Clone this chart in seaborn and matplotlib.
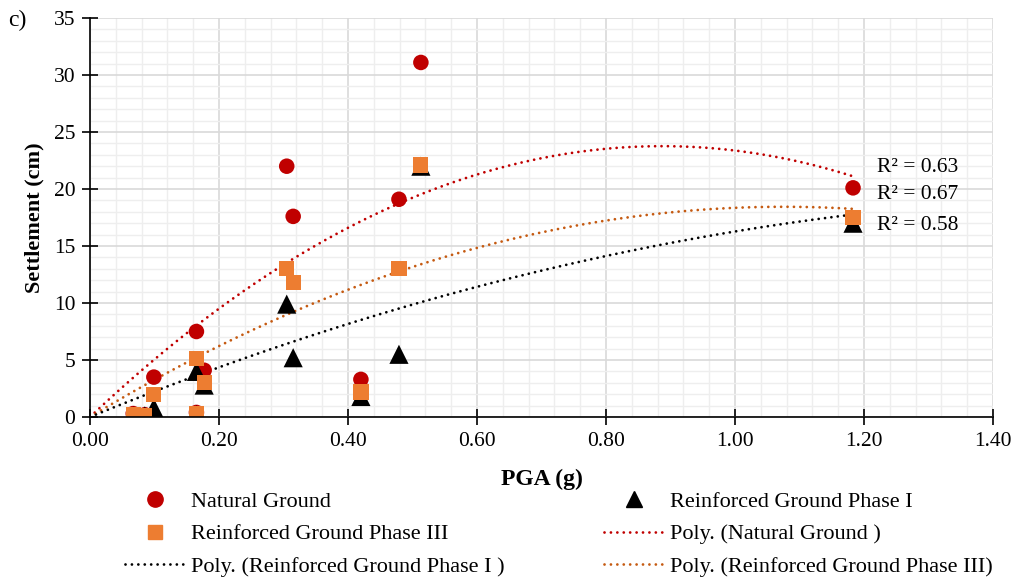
import numpy as np
import pandas as pd
import matplotlib
matplotlib.use("Agg")
import matplotlib.pyplot as plt
from matplotlib.ticker import MultipleLocator, FormatStrFormatter
from matplotlib.lines import Line2D
import seaborn as sns

# ---- data ----
pga = [0.067, 0.085, 0.099, 0.165, 0.165, 0.177, 0.305, 0.315, 0.420, 0.479, 0.513, 1.183]
natural = [0.3, 0.2, 3.5, 7.5, 0.4, 4.1, 22.0, 17.6, 3.3, 19.1, 31.1, 20.1]
phase3 = [0.2, 0.1, 2.0, 5.1, 0.3, 3.0, 13.0, 11.8, 2.2, 13.0, 22.1, 17.5]
phase1 = [0.1, 0.1, 0.8, 4.0, 0.2, 2.8, 9.9, 5.2, 1.8, 5.5, 22.0, 17.0]
r2_labels = ["R² = 0.63", "R² = 0.67", "R² = 0.58"]
series_names = ["Natural Ground", "Reinforced Ground Phase I", "Reinforced Ground Phase III"]
trend_names = ["Poly. (Natural Ground )", "Poly. (Reinforced Ground Phase I )",
               "Poly. (Reinforced Ground Phase III)"]

sns.set_theme(style="white")
plt.rcParams["font.family"] = ["Liberation Serif", "DejaVu Serif"]
plt.rcParams["mathtext.fontset"] = "stix"
plt.rcParams["text.color"] = "black"
plt.rcParams["axes.labelcolor"] = "black"
plt.rcParams["xtick.color"] = "black"
plt.rcParams["ytick.color"] = "black"

fig = plt.figure(figsize=(10.17, 5.83), dpi=100)
ax = fig.add_axes([90 / 1017, 1 - 417 / 583, (993 - 90) / 1017, (417 - 18) / 583])

df = pd.DataFrame({"pga": pga, "natural": natural, "phase1": phase1, "phase3": phase3})

RED = "#C00000"
ORANGE = "#ED7D31"
DORANGE = "#C55A11"

# trend lines: 2nd-order polynomial with zero intercept (least squares)
xs = np.linspace(0, max(pga), 200)
def fit(y):
    x = np.asarray(pga)
    A = np.column_stack([x, x ** 2])
    c, *_ = np.linalg.lstsq(A, np.asarray(y), rcond=None)
    return c[0] * xs + c[1] * xs ** 2

line_kw = dict(linewidth=2.0, dashes=(0.01, 2.3), dash_capstyle="round")
for y, col in [(natural, RED), (phase3, DORANGE), (phase1, "black")]:
    sns.lineplot(x=xs, y=fit(y), ax=ax, color=col, **line_kw)

sns.scatterplot(data=df, x="pga", y="natural", ax=ax, marker="o", s=125, color=RED,
                edgecolor="none", zorder=3)
sns.scatterplot(data=df, x="pga", y="phase1", ax=ax, marker="^", s=190, color="black",
                edgecolor="none", zorder=4)
sns.scatterplot(data=df, x="pga", y="phase3", ax=ax, marker="s", s=120, color=ORANGE,
                edgecolor="none", zorder=5)

ax.set_xlim(0, 1.40)
ax.set_ylim(0, 35)
ax.xaxis.set_major_locator(MultipleLocator(0.2))
ax.xaxis.set_minor_locator(MultipleLocator(0.04))
ax.yaxis.set_major_locator(MultipleLocator(5))
ax.yaxis.set_minor_locator(MultipleLocator(1))
ax.xaxis.set_major_formatter(FormatStrFormatter("%.2f"))

ax.grid(which="major", color="#d9d9d9", linewidth=1.2)
ax.grid(which="minor", color="#eeeeee", linewidth=1.0)
ax.set_axisbelow(True)

for s in ["top", "right"]:
    ax.spines[s].set_visible(False)
for s in ["left", "bottom"]:
    ax.spines[s].set_color("black")
    ax.spines[s].set_linewidth(1.2)
    ax.spines[s].set_zorder(6)

ax.tick_params(which="major", direction="inout", length=11, width=1.2, color="black",
               labelsize=15.5, labelcolor="black", left=True, bottom=True, pad=5)
ax.tick_params(which="minor", length=0)

ax.set_xlabel("PGA (g)", fontsize=17, fontweight="bold", labelpad=13, color="black")
ax.set_ylabel("Settlement (cm)", fontsize=16, fontweight="bold", labelpad=7, color="black")

# R² labels
for lab, yy in zip(r2_labels, [167, 195, 225]):
    fig.text(877 / 1017, 1 - yy / 583, lab, fontsize=15.5, va="center", ha="left",
             color="black")

fig.text(8 / 1017, 1 - 20 / 583, "c)", fontsize=17, va="center", ha="left", color="black")

# legend
h_nat = Line2D([], [], marker="o", linestyle="none", color=RED, markersize=11)
h_p1 = Line2D([], [], marker="^", linestyle="none", color="black", markersize=12)
h_p3 = Line2D([], [], marker="s", linestyle="none", color=ORANGE, markersize=10)
t_nat = Line2D([], [], color=RED, **line_kw)
t_p1 = Line2D([], [], color="black", **line_kw)
t_p3 = Line2D([], [], color=DORANGE, **line_kw)
handles = [h_nat, h_p3, t_p1, h_p1, t_nat, t_p3]
labels = [series_names[0], series_names[2], trend_names[1],
          series_names[1], trend_names[0], trend_names[2]]
leg = fig.legend(handles, labels, loc="upper left", bbox_to_anchor=(125 / 1017, 1 - 491 / 583),
                 ncol=2, frameon=False, fontsize=16, handlelength=2.7, handletextpad=0.25,
                 columnspacing=4.5, labelspacing=0.55, borderpad=0, borderaxespad=0)
for t in leg.get_texts():
    t.set_color("black")

fig.savefig("out.png", dpi=100)
